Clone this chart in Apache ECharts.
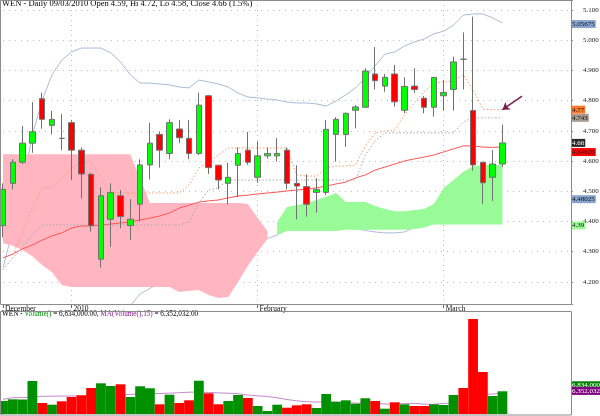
<!DOCTYPE html>
<html><head><meta charset="utf-8">
<script src="https://cdn.jsdelivr.net/npm/echarts@6/dist/echarts.min.js"></script>
<style>html,body{margin:0;padding:0;background:#fff}#c{width:600px;height:416px}</style>
</head><body><div id="c"></div>
<script>
// ---------- data ----------
const dates = ['2009-12-22','2009-12-23','2009-12-24','2009-12-28','2009-12-29','2009-12-30','2009-12-31',
 '2010-01-04','2010-01-05','2010-01-06','2010-01-07','2010-01-08','2010-01-11','2010-01-12','2010-01-13','2010-01-14','2010-01-15',
 '2010-01-19','2010-01-20','2010-01-21','2010-01-22','2010-01-25','2010-01-26','2010-01-27','2010-01-28','2010-01-29',
 '2010-02-01','2010-02-02','2010-02-03','2010-02-04','2010-02-05','2010-02-08','2010-02-09','2010-02-10','2010-02-11','2010-02-12',
 '2010-02-16','2010-02-17','2010-02-18','2010-02-19','2010-02-22','2010-02-23','2010-02-24','2010-02-25','2010-02-26',
 '2010-03-01','2010-03-02','2010-03-03','2010-03-04','2010-03-05','2010-03-08','2010-03-09'];
const futureSlots = ['+1','+2','+3','+4','+5','+6','+7'];
const monthStarts = ['2009-12-22','2010-01-04','2010-02-01','2010-03-01'];
const monthLabels = ['December','2010','February','March'];

const open = [4.386,4.526,4.596,4.659,4.806,4.718,4.675,4.727,4.636,4.556,
 4.275,4.407,4.485,4.386,4.457,4.587,4.688,4.625,4.706,4.675,
 4.625,4.816,4.586,4.526,4.586,4.636,4.546,4.617,4.617,4.636,
 4.526,4.515,4.496,4.496,4.688,4.688,4.768,4.778,4.888,4.848,
 4.888,4.768,4.848,4.808,4.778,4.816,4.837,4.937,4.767,4.596,
 4.546,4.590];
const close = [4.506,4.596,4.659,4.697,4.738,4.738,4.675,4.636,4.557,4.386,
 4.485,4.496,4.416,4.407,4.587,4.659,4.636,4.727,4.677,4.625,
 4.785,4.578,4.537,4.546,4.625,4.596,4.617,4.625,4.625,4.526,
 4.517,4.457,4.506,4.705,4.738,4.758,4.779,4.898,4.866,4.877,
 4.796,4.847,4.837,4.778,4.877,4.827,4.928,4.937,4.587,4.528,
 4.590,4.660];
const low = [4.347,4.506,4.590,4.627,4.707,4.688,4.636,4.537,4.476,4.366,
 4.247,4.316,4.377,4.338,4.399,4.539,4.578,4.606,4.659,4.606,
 4.620,4.557,4.506,4.457,4.480,4.587,4.528,4.608,4.598,4.506,
 4.407,4.416,4.429,4.487,4.598,4.647,4.708,4.776,4.837,4.829,
 4.780,4.758,4.826,4.758,4.747,4.767,4.767,4.837,4.568,4.458,
 4.468,4.580];
const high = [4.526,4.606,4.716,4.795,4.826,4.766,4.755,4.736,4.645,4.560,
 4.513,4.526,4.504,4.474,4.606,4.727,4.697,4.738,4.736,4.736,
 4.826,4.819,4.586,4.594,4.645,4.696,4.665,4.645,4.676,4.645,
 4.586,4.556,4.543,4.736,4.745,4.760,4.785,4.907,4.977,4.888,
 4.918,4.877,4.907,4.815,4.878,4.868,4.945,5.026,5.078,4.596,
 4.636,4.720];

const sma = [4.279,4.292,4.309,4.322,4.338,4.352,4.362,4.378,4.385,4.385,
 4.388,4.391,4.395,4.398,4.405,4.411,4.418,4.428,4.444,4.454,
 4.464,4.468,4.471,4.478,4.484,4.487,4.491,4.494,4.497,4.501,
 4.504,4.507,4.511,4.517,4.524,4.530,4.544,4.554,4.570,4.580,
 4.590,4.600,4.607,4.613,4.620,4.630,4.640,4.650,4.650,4.646,
 4.645,4.6462];
const tenkan = [null,4.289,4.365,4.444,4.511,4.511,4.544,4.577,4.593,4.597,
 4.544,4.494,4.494,4.494,4.494,4.494,4.494,4.494,4.494,4.521,
 4.577,4.597,4.620,4.643,4.643,4.643,4.643,4.643,4.643,4.643,
 4.554,4.550,4.550,4.577,4.583,4.583,4.587,4.650,4.693,4.699,
 4.703,4.752,4.792,4.829,4.858,4.862,4.865,4.885,4.835,4.772,
 4.770,4.770];
const kijun = [4.240,4.279,4.315,4.355,4.388,4.388,4.388,4.388,4.388,4.388,
 4.388,4.388,4.388,4.388,4.388,4.388,4.388,4.388,4.388,4.398,
 4.461,4.504,4.511,4.537,4.537,4.537,4.537,4.537,4.537,4.537,
 4.537,4.537,4.537,4.537,4.537,4.537,4.537,4.620,4.667,4.693,
 4.693,4.693,4.693,4.693,4.693,4.693,4.693,4.729,4.743,4.743,
 4.743,4.743];
const bbUpper = [4.246,4.372,4.521,4.686,4.802,4.885,4.934,4.961,4.974,4.974,
 4.974,4.958,4.928,4.885,4.858,4.858,4.855,4.852,4.845,4.842,
 4.868,4.862,4.855,4.845,4.825,4.812,4.809,4.805,4.802,4.795,
 4.792,4.792,4.789,4.782,4.799,4.819,4.842,4.875,4.915,4.954,
 4.961,4.981,4.994,5.004,5.021,5.030,5.050,5.083,5.087,5.087,
 5.074,5.05675];
const bbLower = [4.05,3.98,3.92,3.87,3.84,3.83,3.84,3.87,3.91,3.96,
 4.01,4.06,4.10,4.120,4.160,4.178,4.195,4.215,4.232,4.248,
 4.262,4.275,4.288,4.300,4.312,4.323,4.333,4.343,4.355,4.375,
 4.378,4.380,4.380,4.380,4.380,4.378,4.376,4.370,4.365,4.362,
 4.362,4.365,4.380,4.398,4.411,4.425,4.438,4.451,4.464,4.471,
 4.478,4.48025];
const senkouA = [4.328,4.319,4.305,4.285,4.256,4.232,4.189,4.183,4.183,4.183,
 4.183,4.183,4.183,4.183,4.183,4.183,4.183,4.183,4.166,4.170,
 4.173,4.156,4.146,4.150,4.199,4.252,4.299,4.342,4.398,4.448,
 4.454,4.461,4.471,4.481,4.494,4.464,4.464,4.464,4.451,4.441,
 4.434,4.434,4.438,4.441,4.458,4.511,4.537,4.564,4.583,4.587,
 4.587,4.587];
const senkouB = [4.622,4.622,4.622,4.622,4.622,4.622,4.622,4.622,4.622,4.622,
 4.622,4.622,4.622,4.622,4.542,4.461,4.461,4.461,4.461,4.461,
 4.461,4.461,4.461,4.461,4.461,4.458,4.411,4.368,4.355,4.368,
 4.368,4.368,4.368,4.368,4.368,4.372,4.372,4.372,4.372,4.372,
 4.372,4.372,4.375,4.380,4.390,4.390,4.390,4.390,4.390,4.390,
 4.390,4.390];

const volume = [3910000,4420000,4360000,9930000,3310000,2800000,3820000,5120000,5630000,7830000,
 9240000,8430000,8940000,5120000,8340000,7740000,2920000,5810000,3310000,4120000,
 10020000,6230000,2920000,3910000,5720000,4820000,2410000,900000,2800000,1900000,
 2620000,2920000,1810000,6020000,3700000,4120000,3100000,4730000,3910000,1600000,
 3520000,2920000,2410000,2410000,2920000,2710000,5720000,7830000,28600000,12640000,
 5420000,6834000];
const volumeMA15 = [4420000,4910000,4910000,5120000,5330000,5360000,5390000,5420000,5420000,5420000,
 5420000,5420000,5720000,5900000,6020000,6080000,6170000,6260000,6410000,6560000,
 6620000,6470000,6350000,6260000,6080000,5720000,5480000,5240000,4880000,4360000,
 3970000,3700000,3610000,3610000,3550000,3430000,3250000,3220000,3220000,3010000,
 2920000,3160000,3220000,2950000,2920000,3160000,3400000,3800000,5300000,5900000,
 6000000,6352032];

// ---------- build ----------
const FONT = 'Liberation Serif';
const cats = dates.concat(futureSlots);
const last = dates.length - 1;
const monthIdx = monthStarts.map(d => dates.indexOf(d));
const candleData = dates.map((d, i) => [open[i], close[i], low[i], high[i]]);
const isPink = senkouA.map((a, i) => senkouB[i] > a);
const pinkBase = senkouA.map((a, i) => isPink[i] ? a : '-');
const pinkBand = senkouA.map((a, i) => isPink[i] ? +(senkouB[i] - a).toFixed(4) : '-');
const greenBase = senkouA.map((a, i) => !isPink[i] ? senkouB[i] : '-');
const greenBand = senkouA.map((a, i) => !isPink[i] ? +(a - senkouB[i]).toFixed(4) : '-');
const volData = volume.map((v, i) => ({ value: v, itemStyle: { color: close[i] > open[i] ? '#009000' : '#ff0000' } }));

const d = dates[last].split('-');
const pct = ((close[last] - close[last - 1]) / close[last - 1] * 100).toFixed(1);
const mainTitle = `WEN - Daily ${d[2]}/${d[1]}/${d[0]} Open ${open[last].toFixed(2)}, Hi ${high[last].toFixed(2)}, Lo ${low[last].toFixed(2)}, Close ${close[last].toFixed(2)} (${pct}%)`;
const fmt2 = v => v.toLocaleString('en-US', { minimumFractionDigits: 2, maximumFractionDigits: 2 });
const volTitle = `{k|WEN - }{g|Volume()}{k| = ${fmt2(volume[last])}, }{p|MA(Volume(),15)}{k| = ${fmt2(volumeMA15[last])}}`;

function tag(value, text, bg, fg, dy) {
  return { yAxis: value, symbol: 'none',
    lineStyle: { color: 'rgba(255,255,255,0)', width: 0, opacity: 1 },
    label: { show: true, position: 'end', distance: 0, formatter: text, backgroundColor: bg, color: fg, opacity: 1,
      fontSize: 7, lineHeight: 8, fontFamily: FONT, padding: [0, 1, 0, 1], offset: [0, dy] } };
}
const priceTags = [
  tag(bbUpper[last], bbUpper[last].toFixed(5), '#88a5d0', '#111', 1),
  tag(tenkan[last], tenkan[last].toFixed(2), '#ff7a2a', '#111', 0),
  tag(kijun[last], kijun[last].toFixed(3), '#a89a8f', '#111', 0),
  tag(close[last], close[last].toFixed(2), '#2a2a2a', '#fff', 0),
  tag(sma[last], sma[last].toFixed(5), '#ff0000', '#222', 5),
  tag(bbLower[last], bbLower[last].toFixed(5), '#88a5d0', '#111', 2),
  tag(senkouB[last], senkouB[last].toFixed(2), '#98fb98', '#111', 1)
];
const volTags = [
  tag(volume[last], volume[last].toLocaleString('en-US'), '#008000', '#fff', -6),
  tag(volumeMA15[last], volumeMA15[last].toLocaleString('en-US'), '#800080', '#fff', -2)
];
const arrow = [
  { coord: [cats[53], 4.815], symbol: 'none', lineStyle: { color: '#7a1f4a', width: 1.5, type: 'solid', opacity: 1 }, label: { show: false } },
  { coord: [cats[51], 4.770], symbol: 'arrow', symbolSize: 7 }
];

const chart = echarts.init(document.getElementById('c'), null, { renderer: 'canvas', width: 600, height: 416 });
const lineBase = { type: 'line', xAxisIndex: 0, yAxisIndex: 0, showSymbol: false, symbol: 'none', silent: true };
chart.setOption({
  animation: false,
  backgroundColor: '#fff',
  title: [
    { text: mainTitle, left: 2, top: -1, padding: 0, textStyle: { fontSize: 8.5, fontWeight: 'normal', fontFamily: FONT, color: '#000' } },
    { text: volTitle, left: 2, top: 311, padding: 0, textStyle: { fontSize: 7.2, fontWeight: 'normal', fontFamily: FONT, color: '#000',
      rich: { k: { fontSize: 7.2, fontFamily: FONT, color: '#000' }, g: { fontSize: 7.2, fontFamily: FONT, color: '#009000' }, p: { fontSize: 7.2, fontFamily: FONT, color: '#8a1a8a' } } } }
  ],
  grid: [
    { left: 3, right: 29, top: 0, height: 304, outerBoundsMode: 'none', containLabel: false },
    { left: 3, right: 29, top: 312, bottom: 2, outerBoundsMode: 'none', containLabel: false }
  ],
  xAxis: [
    { type: 'category', gridIndex: 0, data: cats, boundaryGap: false,
      axisLine: { show: false },
      axisTick: { show: true, interval: i => monthIdx.includes(i), length: 4, lineStyle: { color: '#666' } },
      axisLabel: { show: true, interval: i => monthIdx.includes(i), formatter: (v, i) => monthLabels[monthIdx.indexOf(i)] || '',
        align: 'left', margin: 1, fontSize: 7.5, fontFamily: FONT, color: '#111', padding: [0, 0, 0, 2], hideOverlap: false },
      splitLine: { show: true, interval: i => monthIdx.includes(i) && i > 0, lineStyle: { type: [1, 4], color: '#bbb' } } },
    { type: 'category', gridIndex: 1, data: cats, boundaryGap: false,
      axisLine: { show: false }, axisTick: { show: false }, axisLabel: { show: false }, splitLine: { show: false } }
  ],
  yAxis: [
    { type: 'value', gridIndex: 0, position: 'right', min: 4.1265, max: 5.1331, splitNumber: 10,
      axisLine: { show: false }, axisTick: { show: true, length: 2, lineStyle: { color: '#888' } },
      axisLabel: { margin: 12, align: 'left', fontSize: 7, fontFamily: FONT, color: '#222',
        formatter: v => Math.abs(v * 10 - Math.round(v * 10)) < 1e-6 ? v.toFixed(3) : '' },
      splitLine: { show: true, lineStyle: { type: [1, 5], color: '#bbb' } } },
    { type: 'value', gridIndex: 1, min: 0, max: 30700000, show: true,
      axisLine: { show: false }, axisTick: { show: false }, axisLabel: { show: false }, splitLine: { show: false } }
  ],
  graphic: [
    { type: 'rect', silent: true, z: 100, shape: { x: 0.5, y: 0.5, width: 571, height: 304 }, style: { fill: 'none', stroke: '#8c8c8c', lineWidth: 1 } },
    { type: 'rect', silent: true, z: 100, shape: { x: 0.5, y: 311.5, width: 571, height: 103.5 }, style: { fill: 'none', stroke: '#8c8c8c', lineWidth: 1 } }
  ],
  series: [
    Object.assign({}, lineBase, { name: 'bbUpper', data: bbUpper, z: 1, lineStyle: { color: '#a9bcd8', width: 1 } }),
    Object.assign({}, lineBase, { name: 'bbLower', data: bbLower, z: 1, lineStyle: { color: '#a9bcd8', width: 1 } }),
    Object.assign({}, lineBase, { name: 'pinkBase', data: pinkBase, stack: 'pink', z: 2, lineStyle: { opacity: 0 } }),
    Object.assign({}, lineBase, { name: 'pinkBand', data: pinkBand, stack: 'pink', z: 2, lineStyle: { opacity: 0 }, areaStyle: { color: '#ffb6c1', opacity: 1 } }),
    Object.assign({}, lineBase, { name: 'greenBase', data: greenBase, stack: 'green', z: 2, lineStyle: { opacity: 0 } }),
    Object.assign({}, lineBase, { name: 'greenBand', data: greenBand, stack: 'green', z: 2, lineStyle: { opacity: 0 }, areaStyle: { color: '#98fb98', opacity: 1 } }),
    Object.assign({}, lineBase, { name: 'sma', data: sma, z: 3, lineStyle: { color: '#ff5555', width: 1 } }),
    Object.assign({}, lineBase, { name: 'tenkan', data: tenkan, z: 3, lineStyle: { color: '#ff9966', width: 1, type: [1.5, 2] } }),
    Object.assign({}, lineBase, { name: 'kijun', data: kijun, z: 3, lineStyle: { color: '#a8a8a8', width: 1, type: [1.5, 2] } }),
    { type: 'candlestick', name: 'WEN', xAxisIndex: 0, yAxisIndex: 0, data: candleData, z: 4, clip: false, silent: true,
      barWidth: 6,
      itemStyle: { color: '#00ff00', color0: '#ff0000', borderColor: '#707070', borderColor0: '#707070', borderWidth: 1 },
      markLine: { silent: true, symbol: ['none', 'none'], animation: false, precision: 5, data: [arrow] } },
    Object.assign({}, lineBase, { name: 'priceTags', data: [], z: 5,
      markLine: { silent: true, symbol: ['none', 'none'], animation: false, precision: 5, data: priceTags } }),
    { type: 'line', name: 'volMA', xAxisIndex: 1, yAxisIndex: 1, data: volumeMA15, z: 1, showSymbol: false, symbol: 'none', silent: true,
      lineStyle: { color: '#c488cc', width: 1 } },
    { type: 'bar', name: 'volume', xAxisIndex: 1, yAxisIndex: 1, data: volData, z: 2, barWidth: '100%', clip: false, silent: true },
    { type: 'line', name: 'volTags', xAxisIndex: 1, yAxisIndex: 1, data: [], z: 5, showSymbol: false, silent: true,
      markLine: { silent: true, symbol: ['none', 'none'], animation: false, data: volTags } }
  ]
});
</script></body></html>
